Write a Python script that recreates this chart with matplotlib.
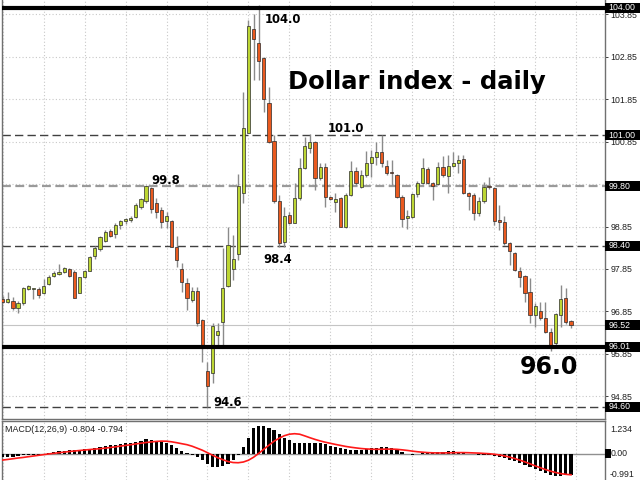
import numpy as np
import matplotlib
matplotlib.use("Agg")
import matplotlib.pyplot as plt
from matplotlib.patches import Rectangle
from matplotlib.transforms import blended_transform_factory

# daily OHLC (oldest first)
opens = [97.14, 97.08, 97.09, 96.94, 97.05, 97.38, 97.37, 97.38, 97.29, 97.49,
         97.68, 97.72, 97.77, 97.84, 97.78, 97.29, 97.65, 97.81, 98.16, 98.31,
         98.52, 98.75, 98.67, 98.89, 98.99, 99.00, 99.08, 99.30, 99.44, 99.76,
         99.41, 99.24, 98.99, 98.99, 98.37, 97.85, 97.52, 97.12, 97.33, 96.65,
         95.45, 95.40, 96.29, 96.61, 97.45, 97.84, 98.20, 99.65, 101.06, 103.50,
         103.18, 102.81, 101.77, 100.87, 99.44, 98.49, 99.12, 98.94, 99.52, 100.22,
         100.69, 100.84, 99.99, 100.25, 99.55, 99.43, 99.52, 98.85, 99.59, 100.16,
         99.79, 100.06, 100.34, 100.48, 100.61, 100.28, 100.14, 100.06, 99.55, 99.04,
         99.08, 99.62, 99.88, 100.20, 99.87, 99.85, 100.25, 100.03, 100.28, 100.34,
         100.43, 99.63, 99.59, 99.18, 99.44, 99.81, 99.75, 99.00, 98.96, 98.47,
         98.22, 97.81, 97.68, 97.31, 96.77, 96.87, 96.69, 96.37, 96.10, 96.77,
         97.17, 96.62]
highs = [97.21, 97.31, 97.18, 97.10, 97.43, 97.47, 97.40, 97.43, 97.61, 97.71,
         97.79, 97.97, 97.90, 97.88, 97.83, 97.67, 97.83, 98.16, 98.38, 98.63,
         98.77, 98.80, 98.93, 99.00, 99.04, 99.10, 99.40, 99.52, 99.83, 99.79,
         99.53, 99.30, 99.19, 99.00, 98.62, 97.98, 97.64, 97.42, 97.43, 96.66,
         95.66, 96.58, 96.58, 98.34, 98.85, 98.65, 100.09, 102.03, 103.72, 103.86,
         104.08, 102.84, 102.13, 101.01, 99.59, 99.32, 99.19, 99.88, 100.46, 100.97,
         101.03, 100.87, 100.35, 100.35, 99.57, 99.63, 99.54, 99.63, 100.40, 100.26,
         100.18, 100.63, 100.65, 100.83, 101.01, 100.42, 100.42, 100.09, 99.59, 99.24,
         99.64, 99.93, 100.46, 100.25, 99.91, 100.38, 100.50, 100.54, 100.61, 100.54,
         100.54, 99.67, 99.63, 99.55, 99.91, 100.01, 99.79, 99.36, 99.10, 98.49,
         98.26, 97.89, 97.71, 97.63, 97.04, 97.08, 97.06, 96.45, 96.82, 97.47,
         97.39, 96.65]
lows = [97.05, 97.05, 96.88, 96.82, 97.00, 97.35, 97.13, 97.16, 97.26, 97.47,
        97.67, 97.71, 97.75, 97.67, 97.16, 97.28, 97.63, 97.79, 98.08, 98.28,
        98.49, 98.60, 98.58, 98.78, 98.91, 98.95, 99.04, 99.26, 99.40, 99.17,
        99.04, 98.81, 98.81, 98.37, 97.90, 97.31, 96.88, 97.08, 96.51, 95.66,
        94.59, 95.16, 96.02, 96.02, 97.43, 97.59, 98.06, 99.40, 101.05, 102.30,
        102.30, 101.56, 100.82, 99.40, 98.37, 98.37, 98.91, 98.93, 99.48, 100.20,
        100.59, 99.71, 99.95, 99.32, 99.48, 99.20, 98.83, 98.81, 99.57, 99.83,
        99.75, 100.02, 100.02, 100.30, 100.25, 100.06, 99.83, 99.52, 98.83, 98.78,
        99.04, 99.54, 99.85, 99.85, 99.48, 99.83, 100.02, 99.64, 100.26, 100.10,
        99.62, 99.24, 99.00, 99.10, 99.40, 99.73, 98.89, 98.77, 98.41, 97.94,
        97.79, 97.43, 97.08, 96.57, 96.49, 96.65, 96.33, 95.92, 95.98, 96.49,
        96.55, 96.45]
closes = [97.08, 97.14, 96.94, 97.05, 97.39, 97.44, 97.39, 97.24, 97.45, 97.67,
          97.75, 97.78, 97.87, 97.68, 97.17, 97.65, 97.80, 98.12, 98.34, 98.60,
          98.73, 98.63, 98.89, 98.99, 99.02, 99.06, 99.36, 99.49, 99.81, 99.26,
          99.20, 98.96, 99.10, 98.37, 98.06, 97.54, 97.16, 97.33, 96.57, 96.02,
          95.08, 96.51, 96.39, 97.39, 98.41, 98.08, 99.81, 101.17, 103.58, 103.26,
          102.75, 101.85, 100.84, 99.44, 98.47, 99.10, 98.94, 99.52, 100.22, 100.75,
          100.83, 99.99, 100.25, 99.54, 99.49, 99.49, 98.85, 99.59, 100.16, 99.88,
          100.06, 100.35, 100.48, 100.61, 100.35, 100.12, 100.10, 99.55, 99.02, 99.10,
          99.62, 99.88, 100.22, 99.87, 99.81, 100.25, 100.06, 100.28, 100.35, 100.42,
          99.63, 99.57, 99.18, 99.45, 99.77, 99.79, 98.99, 98.96, 98.45, 98.27,
          97.83, 97.67, 97.29, 96.77, 96.98, 96.69, 96.37, 96.06, 96.79, 97.14,
          96.61, 96.52]

# MACD(12,26,9) histogram and signal
macd_hist = [-0.125, -0.125, -0.113, -0.087, -0.064, -0.049, -0.049, -0.038, -0.011, 0.038,
             0.064, 0.087, 0.102, 0.125, 0.125, 0.140, 0.162, 0.189, 0.226, 0.264,
             0.302, 0.313, 0.340, 0.366, 0.389, 0.415, 0.453, 0.491, 0.540, 0.528,
             0.491, 0.442, 0.404, 0.313, 0.215, 0.102, 0.011, -0.038, -0.125, -0.253,
             -0.404, -0.502, -0.517, -0.479, -0.377, -0.226, -0.064, 0.253, 0.604, 0.981,
             1.057, 1.045, 0.981, 0.879, 0.728, 0.604, 0.502, 0.415, 0.389, 0.389,
             0.404, 0.415, 0.415, 0.351, 0.275, 0.238, 0.200, 0.162, 0.125, 0.125,
             0.140, 0.162, 0.200, 0.226, 0.238, 0.238, 0.215, 0.151, 0.049, -0.026,
             -0.038, -0.026, 0.011, 0.038, 0.038, 0.049, 0.075, 0.102, 0.087, 0.064,
             0.038, 0.000, -0.026, -0.038, -0.049, -0.064, -0.102, -0.140, -0.177, -0.226,
             -0.275, -0.340, -0.415, -0.502, -0.592, -0.653, -0.717, -0.790, -0.830, -0.835,
             -0.820, -0.804]
macd_signal = [-0.238, -0.215, -0.189, -0.162, -0.140, -0.113, -0.087, -0.060, -0.034, -0.008,
               0.015, 0.038, 0.060, 0.083, 0.102, 0.121, 0.140, 0.158, 0.174, 0.189,
               0.211, 0.234, 0.260, 0.287, 0.313, 0.340, 0.370, 0.396, 0.423, 0.445,
               0.464, 0.475, 0.472, 0.449, 0.415, 0.377, 0.340, 0.283, 0.208, 0.132,
               0.038, -0.057, -0.151, -0.226, -0.294, -0.332, -0.340, -0.313, -0.245, -0.132,
               0.011, 0.170, 0.321, 0.472, 0.585, 0.679, 0.736, 0.755, 0.736, 0.672,
               0.604, 0.540, 0.483, 0.434, 0.392, 0.351, 0.313, 0.275, 0.245, 0.219,
               0.196, 0.181, 0.170, 0.166, 0.170, 0.174, 0.174, 0.166, 0.147, 0.125,
               0.098, 0.075, 0.057, 0.042, 0.034, 0.030, 0.030, 0.034, 0.038, 0.042,
               0.042, 0.038, 0.030, 0.023, 0.011, 0.000, -0.019, -0.045, -0.083, -0.128,
               -0.181, -0.242, -0.309, -0.381, -0.457, -0.528, -0.596, -0.657, -0.709, -0.751,
               -0.777, -0.794]

levels = [104.00, 101.00, 99.80, 98.40, 96.01, 94.60]
last_price = 96.52
price_ticks = [94.85, 95.85, 96.85, 97.85, 98.85, 99.85, 100.85, 101.85, 102.85, 103.85]
hidden_ticks = [99.85]   # sits right under the 99.80 box

bull = '#bdd634'
bear = '#ea5a1f'
axis_font = 'Liberation Sans'

fig = plt.figure(figsize=(6.4, 4.8), dpi=100)
ax = fig.add_axes([2/640, 61/480, 603/640, 419/480])
ax2 = fig.add_axes([2/640, 0, 603/640, 59/480])

x = np.arange(len(opens))
o = np.array(opens); c = np.array(closes)
h = np.array(highs); l = np.array(lows)
up = c >= o

# candles
ax.vlines(x, l, h, color='#8a8a8a', lw=1, zorder=3)
body = np.maximum(np.abs(c - o), 0.02)
ax.bar(x, body, bottom=np.minimum(o, c), width=0.62,
       color=np.where(up, bull, bear), edgecolor='#2a2a2a', linewidth=0.5, zorder=4)

# horizontal levels
ax.axhline(104.00, color='black', lw=3, zorder=5)
ax.axhline(96.01, color='black', lw=3, zorder=5)
ax.axhline(101.00, color='#404040', lw=1, ls=(0, (6, 3)), zorder=2)
ax.axhline(99.80, color='#9a9a9a', lw=1.6, ls=(0, (4, 2)), zorder=2)
ax.axhline(98.40, color='#404040', lw=1, ls=(0, (6, 3)), zorder=2)
ax.axhline(94.60, color='#404040', lw=1, ls=(0, (6, 3)), zorder=2)
ax.axhline(last_price, color='#c4c4c4', lw=0.8, zorder=2)

ax.set_xlim(-0.137, 117.64)
ax.set_ylim(94.313, 104.1885)
ax.set_xticks(np.arange(0, 118, 8))
ax.tick_params(axis='x', length=0, labelbottom=False)
ax.yaxis.tick_right()
ax.set_yticks(price_ticks)
ax.set_yticklabels(['' if t in hidden_ticks else '%.2f' % t for t in price_ticks],
                   fontsize=6.3, family=axis_font)
ax.tick_params(axis='y', length=2.5, width=0.6, pad=1.3, colors='#202020')
ax.grid(True, color='#c8c8c8', ls=(0, (1, 2)), lw=0.8)
ax.set_axisbelow(True)
ax.spines['top'].set_visible(False)
for s in ['left', 'right', 'bottom']:
    ax.spines[s].set_color('#707070')
    ax.spines[s].set_linewidth(1)

# price boxes on the right scale
tr = blended_transform_factory(ax.transAxes, ax.transData)
for v in levels + [last_price]:
    ax.add_patch(Rectangle((1.0, v - 0.12), 36/603, 0.24, transform=tr,
                           facecolor='black', edgecolor='none', clip_on=False, zorder=6))
    ax.text(1.0058, v, '%.2f' % v, transform=tr, ha='left', va='center',
            color='white', fontsize=6.3, family=axis_font, zorder=7, clip_on=False)

# annotations
bold = dict(family='DejaVu Sans', weight='bold', color='black', zorder=8)
ax.text(51.2, 103.64, '104.0', fontsize=8.4, ha='left', va='baseline', **bold)
ax.text(63.5, 101.08, '101.0', fontsize=8.4, ha='left', va='baseline', **bold)
ax.text(29.1, 99.85, '99.8', fontsize=8.4, ha='left', va='baseline', **bold)
ax.text(51.0, 98.00, '98.4', fontsize=8.4, ha='left', va='baseline', **bold)
ax.text(41.1, 94.62, '94.6', fontsize=8.4, ha='left', va='baseline', **bold)
ax.text(101.0, 95.37, '96.0', fontsize=17, ha='left', va='baseline', **bold)
ax.text(55.8, 102.08, 'Dollar index - daily', fontsize=17.5, ha='left', va='baseline', **bold)

# MACD panel
ax2.bar(x, macd_hist, width=0.62, color='black', zorder=3)
ax2.plot(x, macd_signal, color='#ff1a1a', lw=1.2, zorder=4)
ax2.axhline(0, color='#909090', lw=1, zorder=2)
ax2.set_xlim(-0.137, 117.64)
ax2.set_ylim(-0.991, 1.234)
ax2.set_xticks(np.arange(0, 118, 8))
ax2.tick_params(axis='x', length=0, labelbottom=False)
ax2.grid(True, axis='x', color='#c8c8c8', ls=(0, (1, 2)), lw=0.8)
ax2.set_axisbelow(True)
ax2.yaxis.tick_right()
ax2.set_yticks([0.97, -0.728])
ax2.set_yticklabels(['1.234', '-0.991'], fontsize=6.3, family=axis_font)
ax2.tick_params(axis='y', length=0, pad=3.5, colors='#202020')
ax2.spines['bottom'].set_visible(False)
for s in ['left', 'right', 'top']:
    ax2.spines[s].set_color('#707070')
    ax2.spines[s].set_linewidth(1)
tr2 = blended_transform_factory(ax2.transAxes, ax2.transData)
ax2.add_patch(Rectangle((1.0, -0.16), 6/603, 0.32, transform=tr2,
                        facecolor='black', edgecolor='none', clip_on=False, zorder=6))
ax2.text(1.009, 0, '0.00', transform=tr2, ha='left', va='center',
         fontsize=6.3, family=axis_font, color='#202020', clip_on=False, zorder=7)
ax2.text(0.005, 0.913, 'MACD(12,26,9) -0.804 -0.794', transform=tr2, ha='left', va='center',
         fontsize=6.4, family=axis_font, color='#202020')

fig.savefig('out.png', dpi=100)
